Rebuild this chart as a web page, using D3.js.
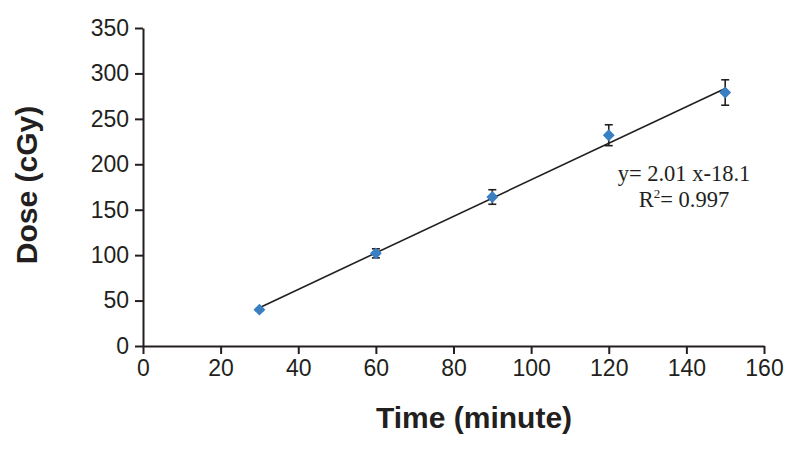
<!DOCTYPE html>
<html><head><meta charset="utf-8">
<script src="https://cdn.jsdelivr.net/npm/d3@7"></script>
<style>body{margin:0;background:#fff}</style>
</head><body>
<svg id="c" width="800" height="452"></svg>
<script>
const times = [30, 60, 90, 120, 150];
const doses = [40, 102, 164, 232, 279];
const errors = [1, 5, 8, 11.5, 14];
const xTicks = [0, 20, 40, 60, 80, 100, 120, 140, 160];
const yTicks = [0, 50, 100, 150, 200, 250, 300, 350];
const slope = 2.01, intercept = -18.1;

const svg = d3.select("#c");
const x = d3.scaleLinear().domain([0, 160]).range([143, 764]);
const y = d3.scaleLinear().domain([0, 350]).range([346, 28]);

const xAxis = svg.append("g").attr("transform", "translate(0,346)")
  .call(d3.axisBottom(x).tickValues(xTicks).tickSize(8).tickSizeOuter(0).tickPadding(6));
const yAxis = svg.append("g").attr("transform", "translate(143,0)")
  .call(d3.axisLeft(y).tickValues(yTicks).tickSize(8).tickSizeOuter(0).tickPadding(6));
[xAxis, yAxis].forEach(a => {
  a.selectAll("path,line").attr("stroke", "#231f20").attr("stroke-width", 2);
  a.selectAll("text").attr("font-family", "Liberation Sans, Arial, sans-serif")
    .attr("font-size", 23).attr("fill", "#231f20");
});

// regression line
svg.append("line")
  .attr("x1", x(30)).attr("y1", y(slope * 30 + intercept))
  .attr("x2", x(150)).attr("y2", y(slope * 150 + intercept))
  .attr("stroke", "#231f20").attr("stroke-width", 1.6);

// error bars
const eb = svg.append("g").attr("stroke", "#231f20").attr("stroke-width", 1.6);
times.forEach((t, i) => {
  const cx = x(t), lo = y(doses[i] - errors[i]), hi = y(doses[i] + errors[i]);
  eb.append("line").attr("x1", cx).attr("x2", cx).attr("y1", lo).attr("y2", hi);
  eb.append("line").attr("x1", cx - 4).attr("x2", cx + 4).attr("y1", lo).attr("y2", lo);
  eb.append("line").attr("x1", cx - 4).attr("x2", cx + 4).attr("y1", hi).attr("y2", hi);
});

// diamonds
svg.append("g").selectAll("path").data(times).join("path")
  .attr("d", d3.symbol().type(d3.symbolDiamond2).size(90))
  .attr("transform", (t, i) => `translate(${x(t)},${y(doses[i])})`)
  .attr("fill", "#3a7fc1");

// equation
const eq = svg.append("g").attr("font-family", "Liberation Serif, Times New Roman, serif")
  .attr("font-size", 22.5).attr("fill", "#231f20").attr("text-anchor", "middle");
eq.append("text").attr("x", 684).attr("y", 181).text("y= 2.01 x-18.1");
const r = eq.append("text").attr("x", 684).attr("y", 207);
r.append("tspan").text("R");
r.append("tspan").attr("font-size", 13).attr("dy", -9).text("2");
r.append("tspan").attr("dy", 9).text("= 0.997");

// axis titles
svg.append("text").attr("x", 474).attr("y", 428).attr("text-anchor", "middle")
  .attr("font-family", "Liberation Sans, Arial, sans-serif").attr("font-weight", "bold")
  .attr("font-size", 30).attr("fill", "#231f20").text("Time (minute)");
svg.append("text").attr("transform", "translate(37,185) rotate(-90)").attr("text-anchor", "middle")
  .attr("font-family", "Liberation Sans, Arial, sans-serif").attr("font-weight", "bold")
  .attr("font-size", 30).attr("fill", "#231f20").text("Dose (cGy)");
</script>
</body></html>
